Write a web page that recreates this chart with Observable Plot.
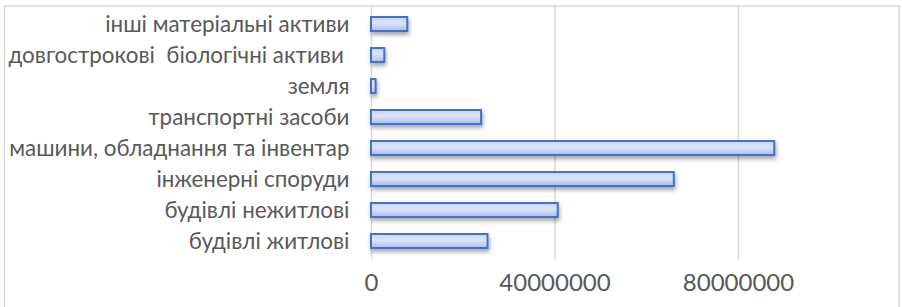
<!DOCTYPE html>
<html>
<head>
<meta charset="utf-8">
<script src="https://cdn.jsdelivr.net/npm/d3@7"></script>
<script src="https://cdn.jsdelivr.net/npm/@observablehq/plot@0.6"></script>
<style>
  html, body { margin: 0; padding: 0; background: #fff; }
  svg text { white-space: pre; }
</style>
</head>
<body>
<div id="chart"></div>
<script>
const categories = [
  "інші матеріальні активи",
  "довгострокові  біологічні активи ",
  "земля",
  "транспортні засоби",
  "машини, обладнання та інвентар",
  "інженерні споруди",
  "будівлі нежитлові",
  "будівлі житлові"
];
const values = [7900000, 2900000, 1000000, 24000000, 87900000, 66000000, 40700000, 25400000];
const xTicks = [0, 40000000, 80000000];

const data = categories.map((c, i) => ({category: c, value: values[i]}));

const W = 902, H = 307;
const x0 = 371, perTick = 183.5;
const plotTop = 5.4, plotBottom = 259.6;

const svg = Plot.plot({
  width: W,
  height: H,
  marginLeft: 4,
  marginRight: 3.5,
  marginTop: 5.5,
  marginBottom: 0,
  style: {fontFamily: "Lato, 'Open Sans', sans-serif", background: "#fff", color: "#595959"},
  x: {domain: [0, 120000000], range: [x0, x0 + 3 * perTick], axis: null},
  y: {domain: categories, range: [plotTop, plotBottom], paddingInner: 0.55, paddingOuter: 0.275, axis: null},
  marks: [
    Plot.frame({stroke: "#d9d9d9", strokeWidth: 1.5, insetBottom: -6}),
    Plot.ruleX(xTicks, {stroke: "#d9d9d9", strokeWidth: 1.5, insetBottom: H - plotBottom}),
    Plot.barX(data, {x: "value", y: "category", fill: "url(#barGrad)", stroke: "#4472c4", strokeWidth: 2}),
    Plot.text(categories, {x: () => 0, y: d => d, text: d => d, dx: -22, textAnchor: "end", fill: "#595959", fontSize: 22.4}),
    Plot.text(xTicks, {x: d => d, text: d => String(d), frameAnchor: "bottom", dy: -17, fill: "#595959", fontSize: 24})
  ]
});

const defs = d3.select(svg).insert("defs", ":first-child");
const grad = defs.append("linearGradient").attr("id", "barGrad").attr("x1", 0).attr("y1", 0).attr("x2", 0).attr("y2", 1);
grad.append("stop").attr("offset", "0%").attr("stop-color", "#c9d6f8");
grad.append("stop").attr("offset", "45%").attr("stop-color", "#dbe4fc");
grad.append("stop").attr("offset", "100%").attr("stop-color", "#a8bdf0");
svg.querySelectorAll('g[aria-label="bar"]').forEach(g => {
  g.style.filter = "drop-shadow(1px 3px 2px rgba(0,0,0,0.35))";
});

document.getElementById("chart").appendChild(svg);
</script>
</body>
</html>
